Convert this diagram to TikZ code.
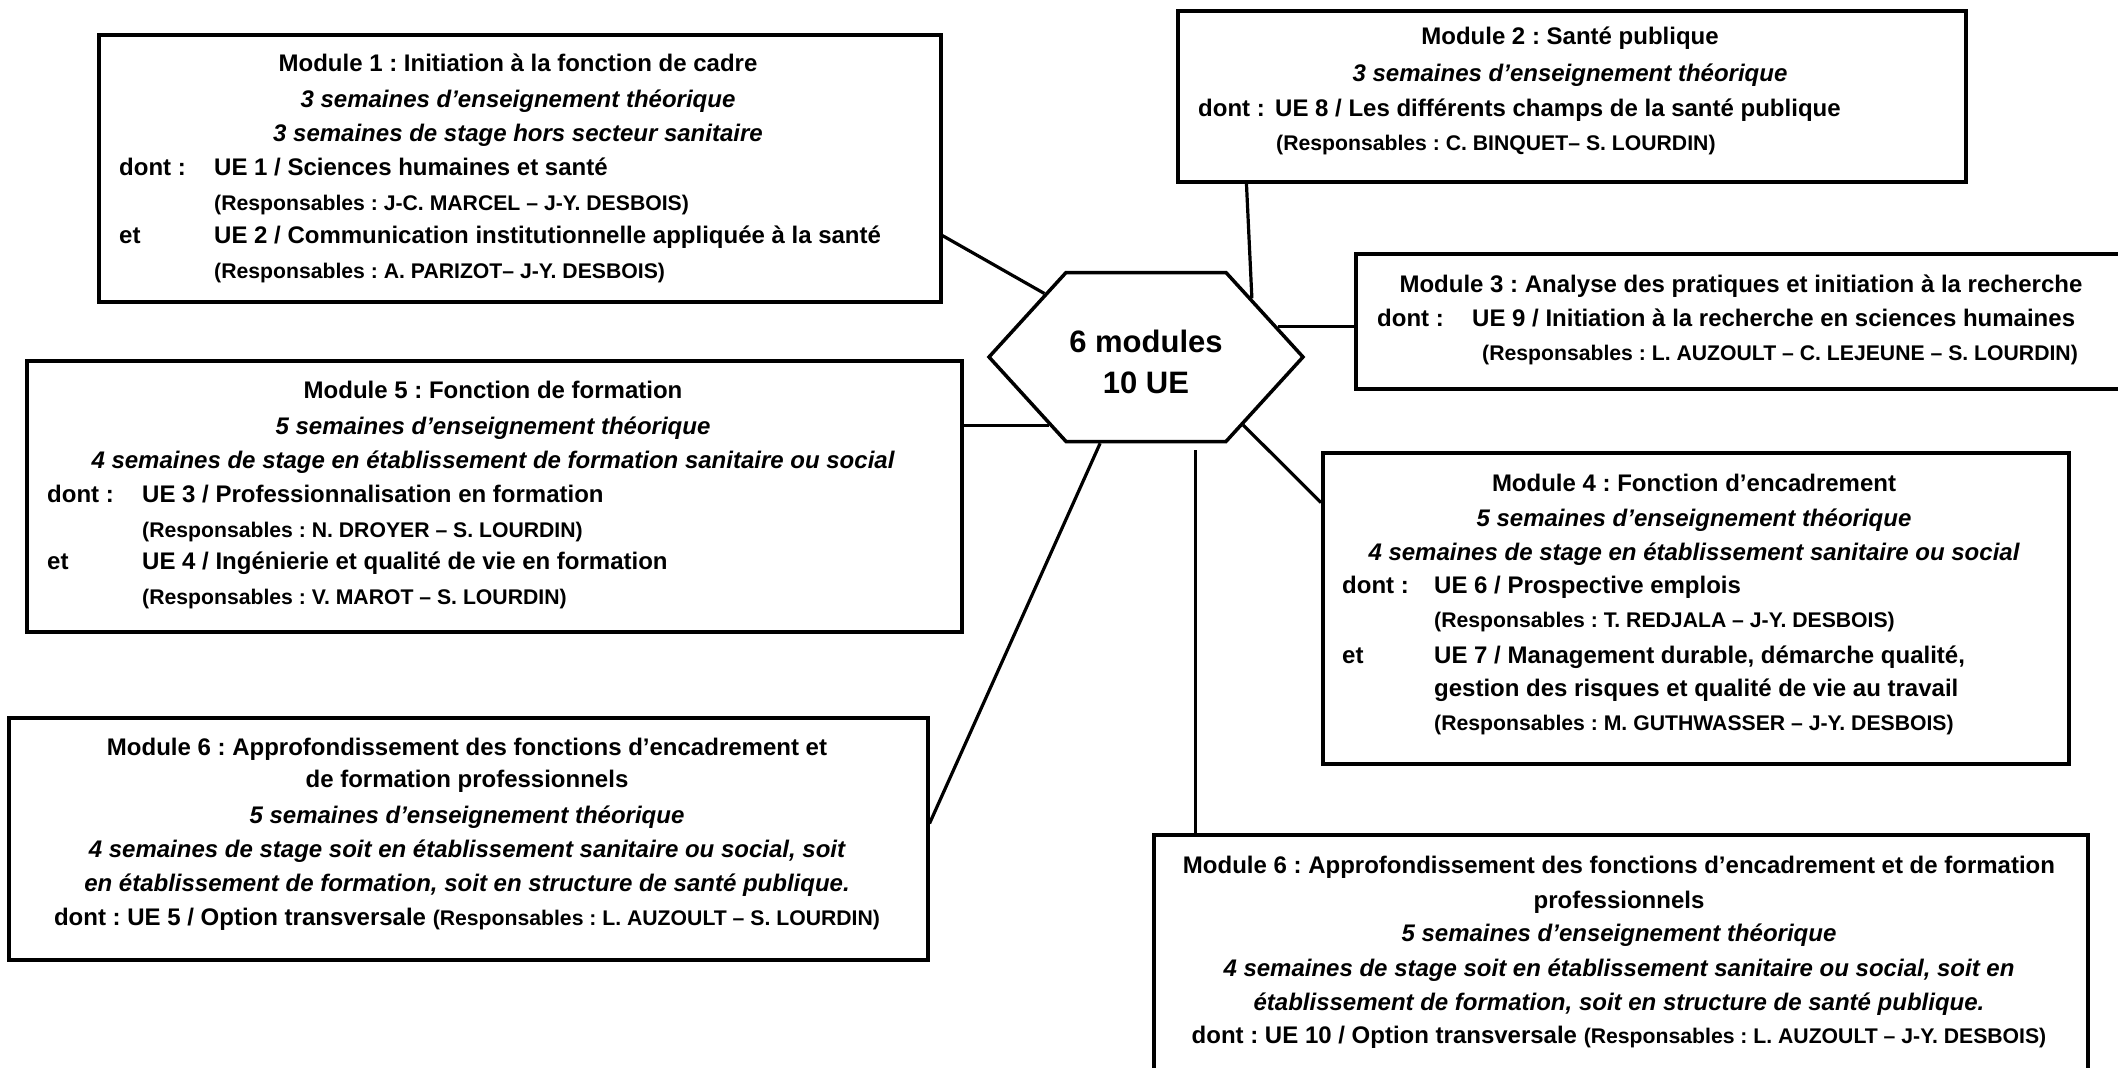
\documentclass[tikz,border=0pt]{standalone}
\usepackage{fontspec}
\setmainfont{Liberation Sans}
\usetikzlibrary{shapes.symbols,calc}
\frenchspacing
\newcommand{\ftx}{\fontsize{24pt}{30pt}\selectfont\bfseries}
\newcommand{\ftit}{\fontsize{24pt}{30pt}\selectfont\bfseries\itshape}
\newcommand{\fres}{\fontsize{21.2pt}{26pt}\selectfont\bfseries}
\newcommand{\fhex}{\fontsize{31pt}{41pt}\selectfont\bfseries}
\tikzset{
  mbox/.style={draw, line width=3.5pt, rectangle, inner sep=0pt, anchor=north west},
  conn/.style={line width=3.2pt},
  tc/.style={inner sep=0pt, text height=17.2pt, text depth=0pt, anchor=center, font=\ftx},
  tl/.style={tc, anchor=west},
  ti/.style={tc, font=\ftit},
  tr/.style={inner sep=0pt, text height=15.2pt, text depth=0pt, anchor=west, font=\fres},
  hexa/.style={draw, line width=3.5pt, shape=signal, signal to=west and east,
    signal pointer angle=95.3, minimum width=314pt, minimum height=169pt, inner sep=0pt}
}
\begin{document}
\begin{tikzpicture}[x=1pt,y=-1pt]
\useasboundingbox (0,0) rectangle (2118,1068);
\fill[white] (0,0) rectangle (2118,1068);
\clip (0,0) rectangle (2118,1068);

% boxes
\node[mbox, minimum width=842pt, minimum height=267pt] (m1) at (97,33) {};
\node[mbox, minimum width=788pt, minimum height=171pt] (m2) at (1176,9) {};
\node[mbox, minimum width=774pt, minimum height=135pt] (m3) at (1354,252) {};
\node[mbox, minimum width=935pt, minimum height=271pt] (m5) at (25,359) {};
\node[mbox, minimum width=746pt, minimum height=311pt] (m4) at (1321,451) {};
\node[mbox, minimum width=919pt, minimum height=242pt] (m6l) at (7,716) {};
\node[mbox, minimum width=934pt, minimum height=260pt] (m6r) at (1152,833) {};

% hexagon
\node[hexa] (hex) at (1146,357) {};
\node[inner sep=0pt, align=center, font=\fhex] (hext) at (1146,362) {6 modules\\10 UE};

% connectors
\draw[conn] ($(m1.north east)!0.749!(m1.south east)$) -- (hex.148.5);
\draw[conn] ($(m2.south west)!0.089!(m2.south east)$) -- (hex.29);
\draw[conn] (hex.13.6) -- (hex.13.6 -| m3.west);
\draw[conn] (hex.215.6) -- (hex.215.6 -| m5.east);
\draw[conn] (hex.242.5) -- ($(m6l.north east)!0.438!(m6l.south east)$);
\draw[conn, shorten <=7pt] (hex.300.6) -- (hex.300.6 |- m6r.north);
\draw[conn] (hex.325.1) -- ($(m4.north west)!0.164!(m4.south west)$);

% Module 1
\node[tc] (a1) at (518,63) {Module 1 : Initiation à la fonction de cadre};
\node[ti] (a2) at (518,99) {3 semaines d’enseignement théorique};
\node[ti] (a3) at (518,133) {3 semaines de stage hors secteur sanitaire};
\node[tl] (a4) at (119,167) {dont :};
\node[tl] (a5) at (214,167) {UE 1 / Sciences humaines et santé};
\node[tr] (a6) at (214,203) {(Responsables : J-C. MARCEL – J-Y. DESBOIS)};
\node[tl] (a7) at (119,235) {et};
\node[tl] (a8) at (214,235) {UE 2 / Communication institutionnelle appliquée à la santé};
\node[tr] (a9) at (214,271) {(Responsables : A. PARIZOT– J-Y. DESBOIS)};

% Module 2
\node[tc] (b1) at (1570,36) {Module 2 : Santé publique};
\node[ti] (b2) at (1570,73) {3 semaines d’enseignement théorique};
\node[tl] (b3) at (1198,108) {dont :};
\node[tl] (b4) at (1275,108) {UE 8 / Les différents champs de la santé publique};
\node[tr] (b5) at (1276,143) {(Responsables : C. BINQUET– S. LOURDIN)};

% Module 3
\node[tc] (c1) at (1741,284) {Module 3 : Analyse des pratiques et initiation à la recherche};
\node[tl] (c2) at (1377,318) {dont :};
\node[tl] (c3) at (1472,318) {UE 9 / Initiation à la recherche en sciences humaines};
\node[tr] (c4) at (1482,353) {(Responsables : L. AUZOULT – C. LEJEUNE – S. LOURDIN)};

% Module 5
\node[tc] (d1) at (493,390) {Module 5 : Fonction de formation};
\node[ti] (d2) at (493,426) {5 semaines d’enseignement théorique};
\node[ti] (d3) at (493,460) {4 semaines de stage en établissement de formation sanitaire ou social};
\node[tl] (d4) at (47,494) {dont :};
\node[tl] (d5) at (142,494) {UE 3 / Professionnalisation en formation};
\node[tr] (d6) at (142,530) {(Responsables : N. DROYER – S. LOURDIN)};
\node[tl] (d7) at (47,561) {et};
\node[tl] (d8) at (142,561) {UE 4 / Ingénierie et qualité de vie en formation};
\node[tr] (d9) at (142,597) {(Responsables : V. MAROT – S. LOURDIN)};

% Module 6 (left)
\node[tc] (e1) at (467,747) {Module 6 : Approfondissement des fonctions d’encadrement et};
\node[tc] (e2) at (467,779) {de formation professionnels};
\node[ti] (e3) at (467,815) {5 semaines d’enseignement théorique};
\node[ti] (e4) at (467,849) {4 semaines de stage soit en établissement sanitaire ou social, soit};
\node[ti] (e5) at (467,883) {en établissement de formation, soit en structure de santé publique.};
\node[tc] (e6) at (467,917) {dont : UE 5 / Option transversale {\fres(Responsables : L. AUZOULT – S. LOURDIN)}};

% Module 4
\node[tc] (f1) at (1694,483) {Module 4 : Fonction d’encadrement};
\node[ti] (f2) at (1694,518) {5 semaines d’enseignement théorique};
\node[ti] (f3) at (1694,552) {4 semaines de stage en établissement sanitaire ou social};
\node[tl] (f4) at (1342,585) {dont :};
\node[tl] (f5) at (1434,585) {UE 6 / Prospective emplois};
\node[tr] (f6) at (1434,620) {(Responsables : T. REDJALA – J-Y. DESBOIS)};
\node[tl] (f7) at (1342,655) {et};
\node[tl] (f8) at (1434,655) {UE 7 / Management durable, démarche qualité,};
\node[tl] (f9) at (1434,688) {gestion des risques et qualité de vie au travail};
\node[tr] (f10) at (1434,723) {(Responsables : M. GUTHWASSER – J-Y. DESBOIS)};

% Module 6 (right)
\node[tc] (g1) at (1619,865) {Module 6 : Approfondissement des fonctions d’encadrement et de formation};
\node[tc] (g2) at (1619,900) {professionnels};
\node[ti] (g3) at (1619,933) {5 semaines d’enseignement théorique};
\node[ti] (g4) at (1619,968) {4 semaines de stage soit en établissement sanitaire ou social, soit en};
\node[ti] (g5) at (1619,1002) {établissement de formation, soit en structure de santé publique.};
\node[tc] (g6) at (1619,1035) {dont : UE 10 / Option transversale {\fres(Responsables : L. AUZOULT – J-Y. DESBOIS)}};
\end{tikzpicture}
\end{document}
